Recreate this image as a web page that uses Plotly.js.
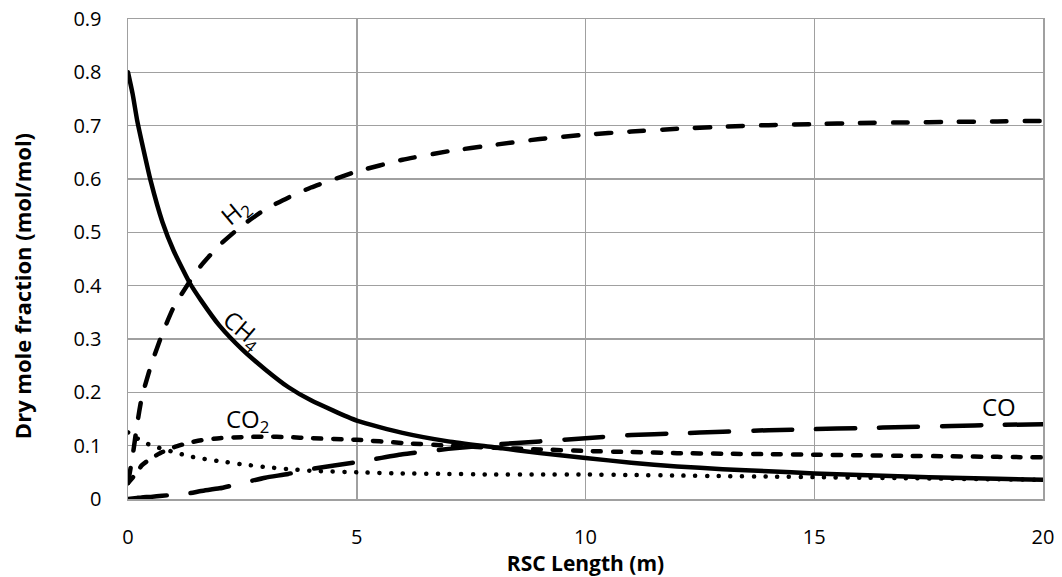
<!DOCTYPE html>
<html>
<head>
<meta charset="utf-8">
<script src="https://cdn.plot.ly/plotly-3.0.1.min.js"></script>
<style>
  html, body { margin: 0; padding: 0; background: #ffffff; }
  #chart { width: 1062px; height: 577px; }
  #chart .js-line { stroke-linecap: round; }
</style>
</head>
<body>
<div id="chart"></div>
<script>
// RSC length (m)
const lengthM = [0, 0.1, 0.2, 0.3, 0.5, 0.75, 1, 1.35, 1.6, 2, 2.5, 3, 3.5, 4, 5, 6, 7, 8, 9, 10, 11, 12, 13, 14, 15, 16, 17, 18, 19, 20];

// Dry mole fractions (mol/mol)
const ch4 = [0.80, 0.76, 0.71, 0.67, 0.595, 0.52, 0.465, 0.405, 0.372, 0.325, 0.28, 0.243, 0.21, 0.185, 0.147, 0.124, 0.108, 0.097, 0.086, 0.077, 0.068, 0.061, 0.056, 0.052, 0.048, 0.045, 0.042, 0.040, 0.038, 0.036];
const h2  = [0.03, 0.08, 0.14, 0.19, 0.25, 0.31, 0.36, 0.408, 0.438, 0.476, 0.513, 0.543, 0.565, 0.584, 0.614, 0.636, 0.652, 0.664, 0.675, 0.683, 0.689, 0.694, 0.698, 0.701, 0.703, 0.705, 0.706, 0.707, 0.708, 0.709];
const co2 = [0.03, 0.04, 0.05, 0.063, 0.076, 0.088, 0.097, 0.106, 0.11, 0.114, 0.116, 0.117, 0.116, 0.114, 0.111, 0.105, 0.10, 0.096, 0.093, 0.09, 0.088, 0.086, 0.085, 0.084, 0.083, 0.082, 0.081, 0.08, 0.079, 0.078];
const h2o = [0.125, 0.12, 0.114, 0.108, 0.101, 0.094, 0.088, 0.08, 0.076, 0.071, 0.065, 0.06, 0.056, 0.053, 0.05, 0.048, 0.047, 0.046, 0.046, 0.046, 0.045, 0.044, 0.043, 0.042, 0.041, 0.04, 0.039, 0.038, 0.037, 0.036];
const co  = [0, 0.001, 0.002, 0.003, 0.004, 0.006, 0.008, 0.011, 0.015, 0.02, 0.03, 0.04, 0.047, 0.056, 0.069, 0.084, 0.094, 0.102, 0.108, 0.114, 0.12, 0.123, 0.126, 0.129, 0.131, 0.133, 0.135, 0.137, 0.139, 0.14];

// Curve labels
const labelText = ['H<sub>2</sub>', 'CH<sub>4</sub>', 'CO<sub>2</sub>', 'CO'];
const labelX    = [2.34, 2.5, 2.62, 19.04];
const labelY    = [0.538, 0.316, 0.1475, 0.174];
const labelAngle = [-40, 40, 0, 0];

const xTicks = [0, 5, 10, 15, 20];
const yTicks = [0, 0.1, 0.2, 0.3, 0.4, 0.5, 0.6, 0.7, 0.8, 0.9];
const yTickText = ['0', '0.1', '0.2', '0.3', '0.4', '0.5', '0.6', '0.7', '0.8', '0.9'];

const xTitle = 'RSC Length (m)';
const yTitle = 'Dry mole fraction (mol/mol)';

const W = 4.5;
const traces = [
  { name: 'H2O', x: lengthM, y: h2o, mode: 'lines', line: { color: '#000', width: W, dash: '0.1px,11.6px', shape: 'spline', smoothing: 0.5 } },
  { name: 'CO',  x: lengthM, y: co,  mode: 'lines', line: { color: '#000', width: W, dash: '39px,24px', shape: 'spline', smoothing: 0.5 } },
  { name: 'CO2', x: lengthM, y: co2, mode: 'lines', line: { color: '#000', width: W, dash: '8px,12px', shape: 'spline', smoothing: 0.5 } },
  { name: 'H2',  x: lengthM, y: h2,  mode: 'lines', line: { color: '#000', width: W, dash: '15px,18px', shape: 'spline', smoothing: 0.5 } },
  { name: 'CH4', x: lengthM, y: ch4, mode: 'lines', line: { color: '#000', width: W, shape: 'spline', smoothing: 0.5 } }
];

const annotations = labelText.map((t, i) => ({
  x: labelX[i], y: labelY[i], xref: 'x', yref: 'y', text: t, showarrow: false,
  textangle: labelAngle[i], font: { family: 'Open Sans, sans-serif', size: 24, color: '#000' }
}));
annotations.push({
  x: -0.115, y: 0.443, xref: 'paper', yref: 'paper', text: '<b>' + yTitle + '</b>',
  showarrow: false, textangle: -90, xanchor: 'center', yanchor: 'middle',
  font: { family: 'Open Sans, sans-serif', size: 22, color: '#000' }
});

const gridCol = '#a0a0a0';
const layout = {
  width: 1062, height: 577,
  margin: { l: 128, r: 19, t: 19, b: 78 },
  paper_bgcolor: '#fff', plot_bgcolor: '#fff',
  showlegend: false,
  font: { family: 'Open Sans, sans-serif', size: 20, color: '#000' },
  xaxis: {
    range: [0, 20], tickvals: xTicks, ticktext: xTicks.map(String),
    showgrid: true, gridcolor: gridCol, gridwidth: 1.5,
    showline: true, linecolor: gridCol, linewidth: 1.5, mirror: true,
    zeroline: false, ticks: '', ticklabelstandoff: 19,
    tickfont: { family: 'Open Sans, sans-serif', size: 20, color: '#000' },
    title: { text: '<b>' + xTitle + '</b>', font: { family: 'Open Sans, sans-serif', size: 21, color: '#000' }, standoff: 2 }
  },
  yaxis: {
    range: [0, 0.9], tickvals: yTicks, ticktext: yTickText,
    showgrid: true, gridcolor: gridCol, gridwidth: 1.5,
    showline: true, linecolor: gridCol, linewidth: 1.5, mirror: true,
    zeroline: false, ticks: '', ticklabelstandoff: 21,
    tickfont: { family: 'Open Sans, sans-serif', size: 20, color: '#000' }
  },
  annotations: annotations
};

Plotly.newPlot('chart', traces, layout, { displayModeBar: false, staticPlot: true });
</script>
</body>
</html>
